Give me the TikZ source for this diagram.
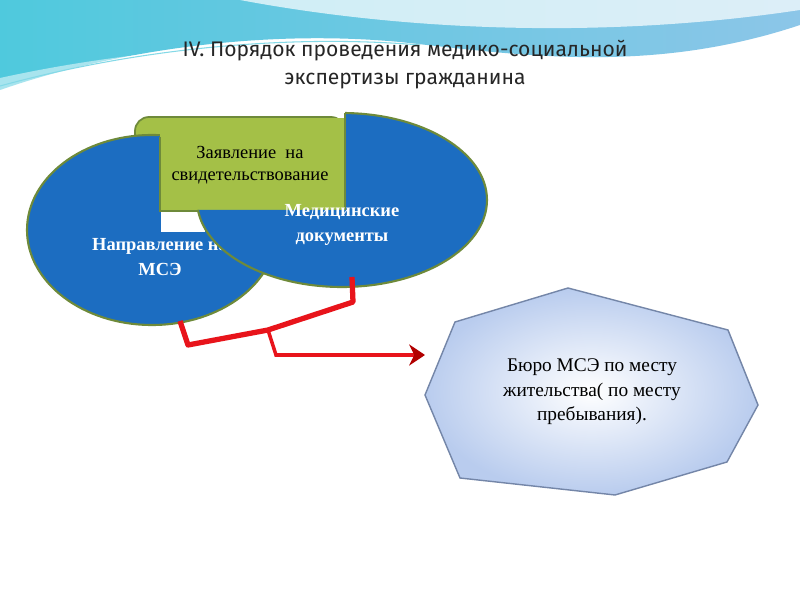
\documentclass[tikz,border=0pt]{standalone}
\usepackage{fontspec}
\setmainfont{Liberation Serif}
\newfontfamily\titlefont{Fira Sans}
\usetikzlibrary{arrows.meta}
\definecolor{ellblue}{HTML}{1C6DC1}
\definecolor{ellborder}{HTML}{6E8A3A}
\definecolor{boxgreen}{HTML}{A4C047}
\definecolor{octborder}{HTML}{7486A8}
\definecolor{octedge}{HTML}{B9CCEE}
\definecolor{wave1}{HTML}{4FC9DD}
\definecolor{wave2}{HTML}{8CC6E8}
\definecolor{linkred}{HTML}{E8141B}
\tikzset{
  ellip/.style={draw=ellborder, line width=1.2pt, fill=ellblue},
  wtext/.style={text=white, font=\bfseries\fontsize{10.5}{14}\selectfont, align=center},
  btext/.style={text=black, font=\fontsize{10.5}{12.5}\selectfont, align=center},
  redline/.style={draw=linkred, line width=3pt},
  redthin/.style={draw=linkred, line width=2pt}
}
\begin{document}
\begin{tikzpicture}[x=0.2mm,y=-0.2mm]
\useasboundingbox (0,0) rectangle (800,600);
\fill[white] (0,0) rectangle (800,600);
% background wave
\shade[left color=wave1, right color=wave2] (0,0) -- (800,0) -- (800,25)
  .. controls (650,75) and (520,55) .. (400,42)
  .. controls (250,28) and (100,55) .. (0,90) -- cycle;
\fill[white, opacity=0.7] (240,0) .. controls (400,30) and (600,40) .. (800,10) -- (800,0) -- cycle;
\fill[white, opacity=0.5] (0,78) .. controls (150,45) and (300,40) .. (420,44)
  .. controls (300,50) and (150,65) .. (0,90) -- cycle;
\draw[wave1!70!white, line width=0.6pt] (0,86) .. controls (150,45) and (300,35) .. (420,45);
% title
\node[font=\titlefont\fontsize{12}{16}\selectfont, text=black!85, align=center] (title) at (405,65)
  {IV. Порядок проведения медико-социальной\\экспертизы гражданина};
% green box (full)
\filldraw[fill=boxgreen, draw=ellborder, line width=1pt, rounded corners=8pt]
  (135,117) rectangle (345,211);
% left ellipse
\filldraw[ellip] (152,230) ellipse [x radius=125, y radius=95];
\node[wtext] (napr) at (160,257) {Направление на\\МСЭ};
% green patch over left ellipse
\fill[boxgreen] (160,118) rectangle (344,210);
\draw[ellborder, line width=1pt] (160,137) -- (160,211) -- (345,211);
% white gap
\fill[white] (161,212) rectangle (205,232);
% right ellipse clipped
\begin{scope}
\clip (345,90) -- (800,90) -- (800,400) -- (150,400) -- (150,210) -- (345,210) -- cycle;
\filldraw[ellip] (342,200) ellipse [x radius=145, y radius=87];
\end{scope}
\draw[ellborder, line width=1pt] (345,113) -- (345,210);
\node[btext] (zayav) at (250,165) {Заявление~ на\\свидетельствование};
\node[wtext] (med) at (342,225) {Медицинские\\документы};
% octagon
\shade[inner color=white, outer color=octedge, draw=octborder, line width=0.8pt]
  (455,322) -- (568,288) -- (728,330) -- (758,405) -- (727,462) -- (615,495) -- (460,478) -- (425,395) -- cycle;
\node[btext, font=\fontsize{11}{14}\selectfont] (buro) at (592,392) {Бюро МСЭ по месту\\жительства( по месту\\пребывания).};
\coordinate (buroin) at (425,355);
% connectors
\coordinate (a1) at (180,321);
\coordinate (a2) at (188,345);
\coordinate (j) at (268,330);
\coordinate (a4) at (353,302);
\coordinate (a5) at (352,277);
\draw[redline, line join=round] (a1) -- (a2) -- (j) -- (a4) -- (a5);
\draw[redthin, -{Stealth[length=9pt,width=12pt,color=red!70!black]}] (j) -- (276,355) -- (buroin);
\end{tikzpicture}
\end{document}
